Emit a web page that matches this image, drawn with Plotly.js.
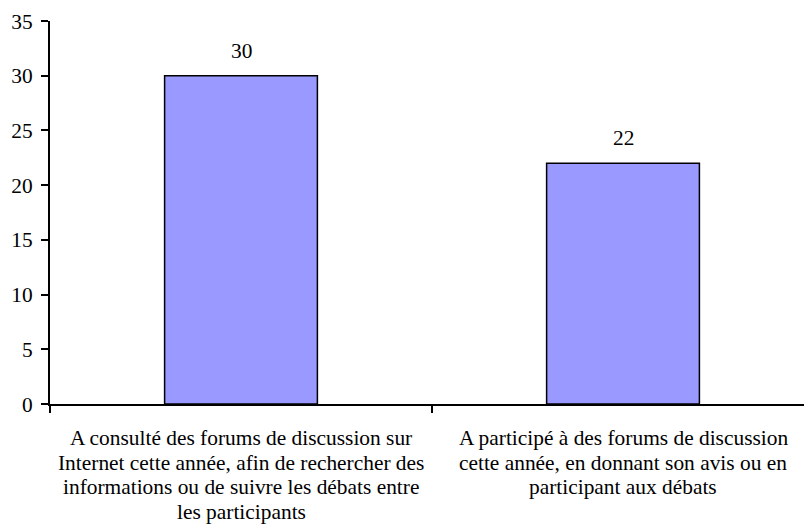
<!DOCTYPE html>
<html><head><meta charset="utf-8">
<script src="https://cdn.plot.ly/plotly-3.0.1.min.js"></script>
<style>body{margin:0;padding:0;overflow:hidden}</style>
</head><body>
<div id="chart" style="width:806px;height:531px"></div>
<script>
const categories = [
  "A consulté des forums de discussion sur<br>Internet cette année, afin de rechercher des<br>informations ou de suivre les débats entre<br>les participants",
  "A participé à des forums de discussion<br>cette année, en donnant son avis ou en<br>participant aux débats"
];
const values = [30, 22];
const yTicks = [0, 5, 10, 15, 20, 25, 30, 35];

const font = {family: '"Liberation Serif", "Times New Roman", serif', size: 21.4, color: '#000'};

const trace = {
  type: 'bar',
  x: categories,
  y: values,
  marker: {color: '#9999FF', line: {color: '#000', width: 1.5}},
  width: 0.4,
  hoverinfo: 'none'
};

const annotations = [];
categories.forEach((c, i) => {
  annotations.push({
    x: c, y: values[i], text: String(values[i]),
    showarrow: false, yanchor: 'middle', yshift: 25, font: font
  });
  c.split('<br>').forEach((line, j) => {
    annotations.push({
      x: c, y: 0, text: line,
      showarrow: false, yanchor: 'middle', yshift: -(34 + j * 24.5), font: font
    });
  });
});

const layout = {
  width: 806, height: 531,
  margin: {l: 50, r: 2, t: 21, b: 127},
  paper_bgcolor: '#fff', plot_bgcolor: '#fff',
  font: font,
  showlegend: false,
  bargap: 0.6,
  xaxis: {
    type: 'category',
    range: [-0.5, 1.4738],
    showline: true, linecolor: '#000', linewidth: 2,
    ticks: 'outside', tickson: 'boundaries', ticklen: 7, tickwidth: 2, tickcolor: '#000',
    showgrid: false, zeroline: false,
    showticklabels: false, automargin: false
  },
  yaxis: {
    range: [0, 35],
    tickvals: yTicks, ticktext: yTicks.map(String),
    showline: true, linecolor: '#000', linewidth: 2,
    ticks: 'outside', ticklen: 7, tickwidth: 2, tickcolor: '#000',
    ticklabelstandoff: 4,
    showgrid: false, zeroline: false,
    tickfont: font, automargin: false
  },
  annotations: annotations
};

Plotly.newPlot('chart', [trace], layout, {displayModeBar: false, staticPlot: true});
</script>
</body></html>
